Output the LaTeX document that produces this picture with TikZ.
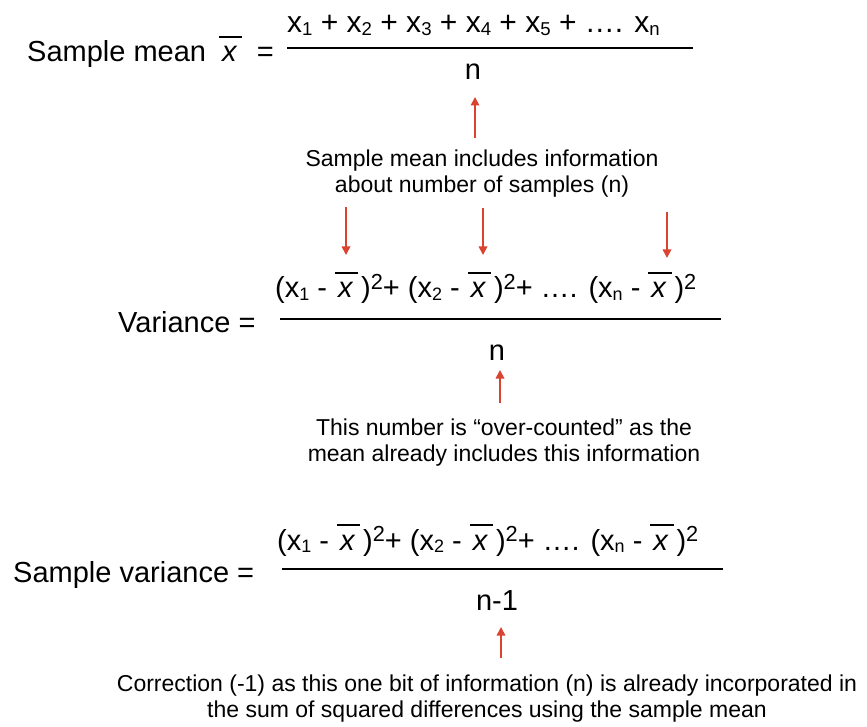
\documentclass[tikz,border=0pt]{standalone}
\usepackage{fontspec}
\setmainfont{Liberation Sans}
\usetikzlibrary{arrows.meta}
\definecolor{arrred}{HTML}{D9432F}
\newcommand\lo[1]{\raisebox{-0.08em}{\scalebox{0.62}{#1}}}
\newcommand\hi[1]{\raisebox{0.3em}{\scalebox{0.75}{#1}}}
\newcommand\xb{\leavevmode\vbox{\hrule height 0.07em\kern 0.3em\hbox{\kern0.1em\itshape x\kern0.2em}}}
\newcommand\sq[1]{(x\lo{#1} - \xb\kern0.1em)\hi{2}}
\begin{document}
\begin{tikzpicture}[x=1pt,y=-1pt,
  txt/.style={inner sep=0pt, font=\fontsize{29}{34}\selectfont},
  note/.style={inner sep=0pt, align=center, font=\fontsize{23}{26}\selectfont},
  fracline/.style={line width=2pt},
  redarrow/.style={draw=arrred, line width=1.7pt, -{Triangle[width=8.5pt,length=8.5pt]}}
]
\useasboundingbox (0,0) rectangle (867,727);

% Row 1
\node[txt, anchor=base west] (lbl1) at (27,62) {Sample mean\hspace{0.45em}\xb\hspace{0.5em}=};
\node[txt, font=\fontsize{30}{34}\selectfont, anchor=base west] (num1) at (287,33)
  {x\lo{1} + x\lo{2} + x\lo{3} + x\lo{4} + x\lo{5} + …. x\lo{n}};
\coordinate (f1a) at (287,48); \coordinate (f1b) at (693,48);
\draw[fracline] (f1a) -- (f1b);
\node[txt, anchor=base] (den1) at (473,80) {n};

\node[note, anchor=base] (t1) at (482,193) {Sample mean includes information\\about number of samples (n)};
\coordinate (a1s) at (475,138); \coordinate (a1e) at (475,97);
\draw[redarrow] (a1s) -- (a1e);
\coordinate (d1s) at (346,207); \coordinate (d1e) at (346,255);
\coordinate (d2s) at (483,208); \coordinate (d2e) at (483,255);
\coordinate (d3s) at (667,212); \coordinate (d3e) at (667,258);
\draw[redarrow] (d1s) -- (d1e);
\draw[redarrow] (d2s) -- (d2e);
\draw[redarrow] (d3s) -- (d3e);

% Row 2
\node[txt, anchor=base west] (lbl2) at (118,332) {Variance =};
\node[txt, anchor=base west] (num2) at (275,298)
  {\sq{1}+ \sq{2}+ …. \sq{n}};
\coordinate (f2a) at (280,319); \coordinate (f2b) at (721,319);
\draw[fracline] (f2a) -- (f2b);
\node[txt, anchor=base] (den2) at (497,360) {n};
\coordinate (a2s) at (500,403); \coordinate (a2e) at (500,370);
\draw[redarrow] (a2s) -- (a2e);
\node[note, anchor=base] (t2) at (504,461) {This number is “over-counted” as the\\mean already includes this information};

% Row 3
\node[txt, anchor=base west] (lbl3) at (13,582) {Sample variance =};
\node[txt, anchor=base west] (num3) at (277,550)
  {\sq{1}+ \sq{2}+ …. \sq{n}};
\coordinate (f3a) at (282,569); \coordinate (f3b) at (723,569);
\draw[fracline] (f3a) -- (f3b);
\node[txt, anchor=base] (den3) at (497,610) {n-1};
\coordinate (a3s) at (501,658); \coordinate (a3e) at (501,627);
\draw[redarrow] (a3s) -- (a3e);
\node[note, anchor=base] (t3) at (487,717) {Correction (-1) as this one bit of information (n) is already incorporated in\\the sum of squared differences using the sample mean};
\end{tikzpicture}
\end{document}
